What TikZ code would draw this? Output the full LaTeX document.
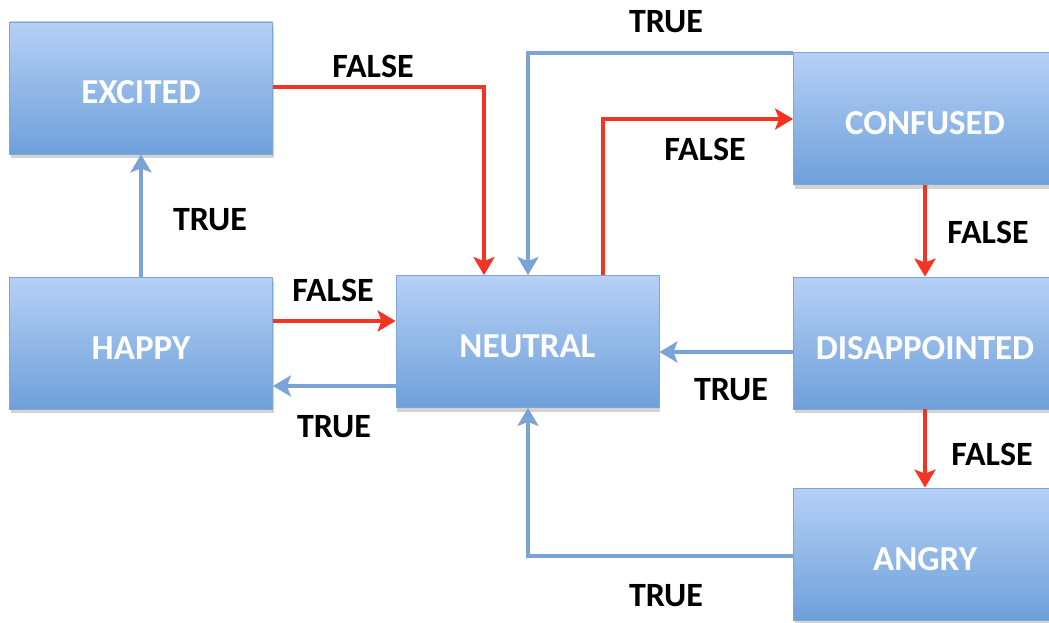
\documentclass[tikz,border=0pt]{standalone}
\usepackage{fontspec}
\setmainfont{Carlito}
\usetikzlibrary{arrows.meta,shadows}
\definecolor{boxtop}{RGB}{182,208,246}
\definecolor{boxbot}{RGB}{110,160,218}
\definecolor{boxline}{RGB}{128,166,214}
\definecolor{truec}{RGB}{124,163,213}
\definecolor{falsec}{RGB}{244,52,34}
\tikzset{
  state/.style={rectangle, draw=boxline, line width=0.8pt,
    top color=boxtop, bottom color=boxbot,
    minimum width=263pt, minimum height=132pt, inner sep=0pt,
    text height=32pt, text depth=0pt,
    font=\fontsize{35}{40}\selectfont\bfseries, text=white,
    drop shadow={opacity=0.35, shadow xshift=1pt, shadow yshift=-4pt}},
  tarrow/.style={draw=truec, line width=4.5pt,
    -{Stealth[length=18pt,width=21pt,inset=4pt]}},
  farrow/.style={draw=falsec, line width=4.5pt,
    -{Stealth[length=18pt,width=21pt,inset=4pt]}},
  lbl/.style={font=\fontsize{34}{38}\selectfont\bfseries, text=black, inner sep=0pt}
}
\begin{document}
\begin{tikzpicture}[x=1pt,y=-1pt]
\useasboundingbox (0,0) rectangle (1049,623);
\clip (0,0) rectangle (1049,623);

% states
\node[state] (excited) at (141,88) {EXCITED};
\node[state] (happy) at (141,343) {HAPPY};
\node[state] (neutral) at (527.5,341.5) {NEUTRAL};
\node[state] (confused) at (925,118.5) {CONFUSED};
\node[state] (disap) at (925,343) {DISAPPOINTED};
\node[state] (angry) at (925,554) {ANGRY};

% bend points
\coordinate (c1) at (484,87);
\coordinate (c2) at (528,53);
\coordinate (c3) at (603,119);
\coordinate (c4) at (528,556);

% transitions
\draw[farrow] (excited.east |- 0,87) -- (c1) -- (c1 |- neutral.north);
\draw[tarrow] (happy.north) -- (excited.south);
\draw[farrow] (happy.east |- 0,321) -- (neutral.west |- 0,321);
\draw[tarrow] (neutral.west |- 0,386) -- (happy.east |- 0,386);
\draw[tarrow] (confused.west |- c2) -- (c2) -- (c2 |- neutral.north);
\draw[farrow] (c3 |- neutral.north) -- (c3) -- (confused.west |- c3);
\draw[farrow] (confused.south) -- (disap.north);
\draw[tarrow] (disap.west |- 0,352) -- (neutral.east |- 0,352);
\draw[farrow] (disap.south) -- (angry.north);
\draw[tarrow] (angry.west |- c4) -- (c4) -- (c4 |- neutral.south);

% labels
\node[lbl] (l1) at (373,66) {FALSE};
\node[lbl] (l2) at (210,220) {TRUE};
\node[lbl] (l3) at (333,290) {FALSE};
\node[lbl] (l4) at (334,427) {TRUE};
\node[lbl] (l5) at (666,22) {TRUE};
\node[lbl] (l6) at (705,149) {FALSE};
\node[lbl] (l7) at (988,232) {FALSE};
\node[lbl] (l8) at (731,390) {TRUE};
\node[lbl] (l9) at (992,454) {FALSE};
\node[lbl] (l10) at (666,596) {TRUE};
\end{tikzpicture}
\end{document}
